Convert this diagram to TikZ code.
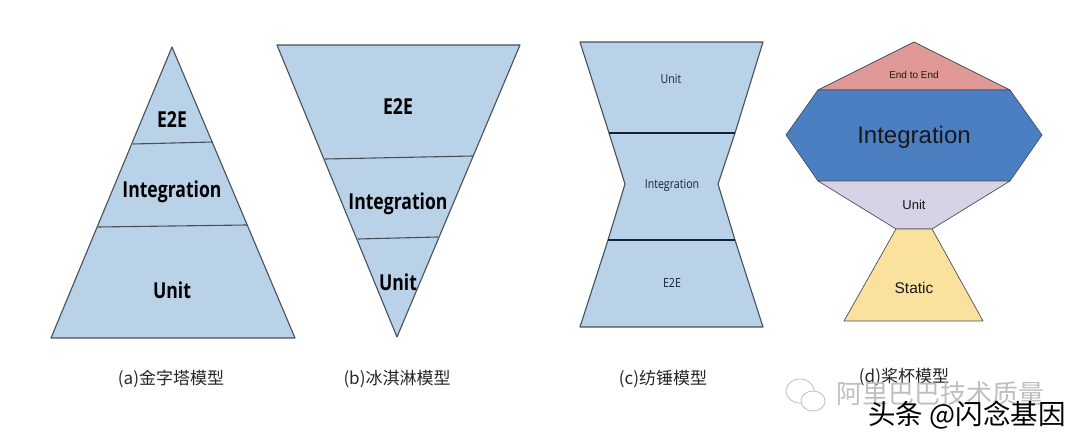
\documentclass[tikz,border=0pt]{standalone}
\usepackage{fontspec}
\usepackage{tikz}
\usetikzlibrary{positioning}
\newfontfamily\boldfont[BoldFont={Open Sans Bold}]{Open Sans}
\newfontfamily\armfont{Liberation Sans}
\newfontfamily\capfont{Noto Sans CJK SC}
\definecolor{paleblue}{RGB}{185,210,232}
\definecolor{edgegray}{RGB}{70,80,90}
\definecolor{textnavy}{RGB}{20,35,55}
\definecolor{e2ered}{RGB}{224,152,150}
\definecolor{intblue}{RGB}{76,126,194}
\definecolor{unitlilac}{RGB}{216,210,230}
\definecolor{staticyellow}{RGB}{250,226,158}
\definecolor{markgray}{RGB}{190,190,190}
\tikzset{
	tier/.style={draw=edgegray,line width=1.1pt,fill=paleblue,line join=round},
	thinline/.style={draw=edgegray,line width=1.1pt},
	thickline/.style={draw=textnavy,line width=1.9pt},
	armtier/.style={draw=edgegray,line width=0.7pt,line join=round},
	boldtext/.style={text=black,font=\boldfont\bfseries\fontsize{22}{22}\selectfont,xscale=0.8},
	spindletext/.style={text=textnavy,font=\boldfont\fontsize{12.5}{12.5}\selectfont,xscale=0.85},
	armtext/.style={text=black!90,font=\armfont\fontsize{#1}{#1}\selectfont},
	captext/.style={text=black!85,font=\capfont\fontsize{17}{17}\selectfont},
	bubble/.style={draw=markgray,line width=0.8pt,fill=white}
}
\begin{document}
\begin{tikzpicture}[x=1pt,y=-1pt]
		\useasboundingbox (0,0) rectangle (1080,443);

		\draw[tier] (172,47) -- (295,338) -- (51,338) -- cycle;
		\draw[thinline] (133,144) -- (213,142);
		\draw[thinline] (98,227) -- (247,225);
		\node[boldtext] (pyramidtop) at (172,120) {E2E};
		\node[boldtext] (pyramidmid) at (172,192) {Integration};
		\node[boldtext] (pyramidlow) at (172,290) {Unit};

		\draw[tier] (277,45) -- (520,45) -- (397,337) -- cycle;
		\draw[thinline] (325,159) -- (473,156);
		\draw[thinline] (358,239) -- (438,237);
		\node[boldtext] (conetop) at (398,107) {E2E};
		\node[boldtext] (conemid) at (398,204) {Integration};
		\node[boldtext] (conelow) at (398,282) {Unit};

		\draw[tier] (580,42) -- (763,42) -- (735,133) -- (718,184) -- (735,240) -- (763,327) -- (580,327) -- (608,240) -- (625,184) -- (609,133) -- cycle;
		\draw[thickline] (609,133) -- (735,133);
		\draw[thickline] (608,240) -- (735,240);
		\node[spindletext] (spindletop) at (671,79) {Unit};
		\node[spindletext] (spindlemid) at (672,185) {Integration};
		\node[spindletext] (spindlelow) at (672,283) {E2E};

		\draw[armtier,fill=e2ered] (914,42) -- (1010,90) -- (818,90) -- cycle;
		\draw[armtier,fill=intblue] (818,90) -- (1010,90) -- (1042,135) -- (1010,181) -- (818,181) -- (786,135) -- cycle;
		\draw[armtier,fill=unitlilac] (818,181) -- (1010,181) -- (932,229) -- (896,229) -- cycle;
		\draw[armtier,fill=staticyellow] (896,229) -- (932,229) -- (983,321) -- (844,321) -- cycle;
		\node[armtext=10] (cupend) at (914,75) {End to End};
		\node[armtext=24] (cupint) at (914,137) {Integration};
		\node[armtext=13] (cupunit) at (914,205) {Unit};
		\node[armtext=15.5] (cupstatic) at (914,288) {Static};

		\node[captext] (capa) at (171,379) {(a)金字塔模型};
		\node[captext] (capb) at (397,379) {(b)冰淇淋模型};
		\node[captext] (capc) at (663,379) {(c)纺锤模型};
		\node[captext] (capd) at (904,377) {(d)桨杯模型};

		\draw[bubble] (800,391) circle[x radius=14,y radius=12];
		\draw[bubble] (813,401) circle[x radius=12,y radius=10];
		\node[text=markgray,font=\capfont\fontsize{26}{26}\selectfont] (markname) at (940,394) {阿里巴巴技术质量};
		\node[text=black,font=\capfont\fontsize{27.5}{27.5}\selectfont] (markuser) at (967,415) {头条 @闪念基因};
	\end{tikzpicture}
\end{document}
